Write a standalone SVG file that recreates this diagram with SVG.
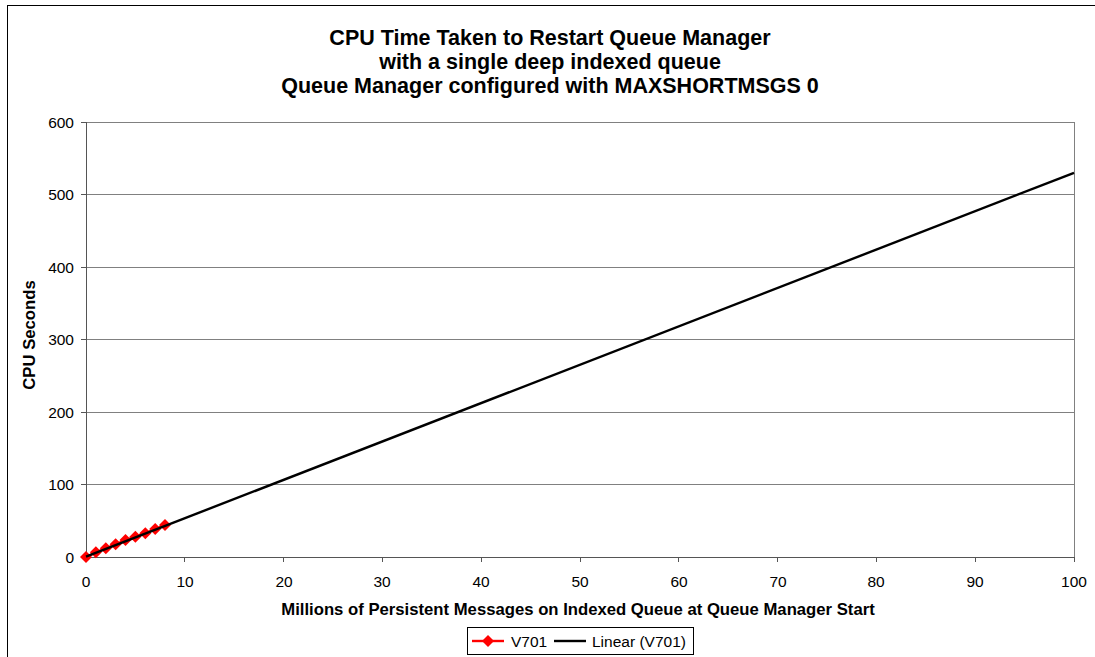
<svg xmlns="http://www.w3.org/2000/svg" width="1095" height="657" viewBox="0 0 1095 657">
<style>
text{font-family:"Liberation Sans",Arial,sans-serif;fill:#000}
.title{font-size:21.5px;font-weight:bold;text-anchor:middle}
.axt{font-size:16.7px;font-weight:bold;text-anchor:middle}
.yl{font-size:15.5px;text-anchor:end}
.xl{font-size:15.5px;text-anchor:middle}
.lg{font-size:15.5px}
.grid{stroke:#808080;stroke-width:1;fill:none}
.axis{stroke:#555;stroke-width:1;fill:none}
.trend{stroke:#000;stroke-width:2.4;fill:none}
.series{stroke:#ff0000;stroke-width:2.4;fill:none}
</style>
<defs>
<path id="dm" d="M0,-6 L6,0 L0,6 L-6,0 Z" fill="#ff0000"/>
</defs>
<rect x="0" y="0" width="1095" height="657" fill="#fff"/>
<rect x="7.5" y="5.5" width="1100" height="660" fill="none" stroke="#000" stroke-width="1"/>
<g id="title">
<text class="title" x="550" y="45">CPU Time Taken to Restart Queue Manager</text>
<text class="title" x="550" y="69">with a single deep indexed queue</text>
<text class="title" x="550" y="93">Queue Manager configured with MAXSHORTMSGS 0</text>
</g>
<g id="plot-area">
<path class="grid" d="M86,122.5H1074.5M86,194.5H1074.5M86,267.5H1074.5M86,339.5H1074.5M86,412.5H1074.5M86,484.5H1074.5M1074.5,122V557"/>
</g>
<g id="axes">
<path class="axis" d="M86.5,122V557.5H1074.5"/>
<path class="axis" d="M81,122.5H86M81,194.5H86M81,267.5H86M81,339.5H86M81,412.5H86M81,484.5H86M81,557.5H86"/>
<path class="axis" d="M86.5,557V562M184.5,557V562M283.5,557V562M382.5,557V562M481.5,557V562M580.5,557V562M678.5,557V562M777.5,557V562M876.5,557V562M975.5,557V562M1074.5,557V562"/>
<g id="y-labels">
<text class="yl" x="74" y="128">600</text>
<text class="yl" x="74" y="200">500</text>
<text class="yl" x="74" y="273">400</text>
<text class="yl" x="74" y="345">300</text>
<text class="yl" x="74" y="418">200</text>
<text class="yl" x="74" y="490">100</text>
<text class="yl" x="74" y="563">0</text>
</g>
<g id="x-labels">
<text class="xl" x="86" y="587">0</text>
<text class="xl" x="185" y="587">10</text>
<text class="xl" x="284" y="587">20</text>
<text class="xl" x="382" y="587">30</text>
<text class="xl" x="481" y="587">40</text>
<text class="xl" x="580" y="587">50</text>
<text class="xl" x="679" y="587">60</text>
<text class="xl" x="778" y="587">70</text>
<text class="xl" x="876" y="587">80</text>
<text class="xl" x="975" y="587">90</text>
<text class="xl" x="1074" y="587">100</text>
</g>
<text class="axt" x="578" y="615">Millions of Persistent Messages on Indexed Queue at Queue Manager Start</text>
<text class="axt" transform="translate(35,335) rotate(-90)">CPU Seconds</text>
</g>
<g id="connectors">
<polyline class="series" points="86,557 95.9,552.3 105.8,548.3 115.6,544.3 125.5,540 135.4,536.7 145.3,533.3 155.2,529 165,525"/>
<g id="markers">
<use href="#dm" x="86" y="557"/>
<use href="#dm" x="95.9" y="552.3"/>
<use href="#dm" x="105.8" y="548.3"/>
<use href="#dm" x="115.6" y="544.3"/>
<use href="#dm" x="125.5" y="540"/>
<use href="#dm" x="135.4" y="536.7"/>
<use href="#dm" x="145.3" y="533.3"/>
<use href="#dm" x="155.2" y="529"/>
<use href="#dm" x="165" y="525"/>
</g>
<line class="trend" x1="86" y1="556.6" x2="1074" y2="172.8"/>
</g>
<g id="legend">
<rect x="467.5" y="627.5" width="226" height="27" fill="#fff" stroke="#000" stroke-width="1"/>
<line class="series" x1="472" y1="641" x2="504" y2="641"/>
<use href="#dm" x="488" y="641"/>
<text class="lg" x="511" y="646.5">V701</text>
<line class="trend" x1="554" y1="641" x2="586" y2="641"/>
<text class="lg" x="592" y="646.5">Linear (V701)</text>
</g>
</svg>
